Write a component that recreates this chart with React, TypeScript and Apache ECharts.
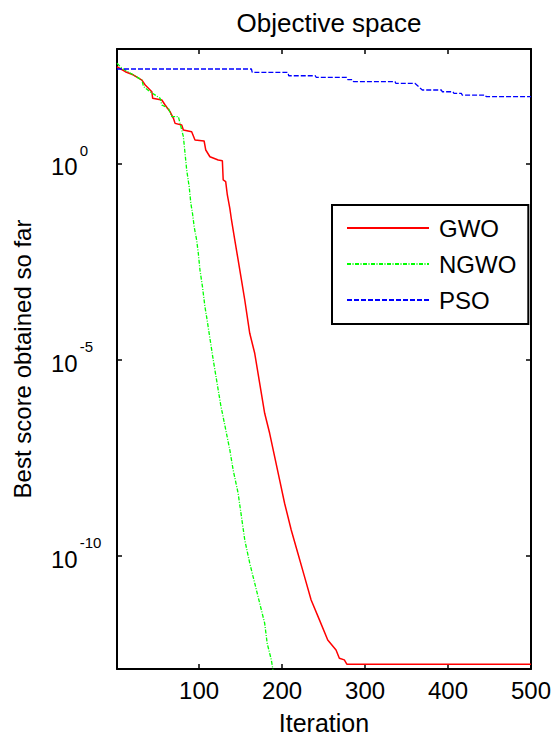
import React, { useEffect, useRef } from "react";
import * as echarts from "echarts";

const titleText = "Objective space";
const xName = "Iteration";
const yName = "Best score obtained so far";
const seriesNames = ["GWO", "NGWO", "PSO"];
const xTicks = [100, 200, 300, 400, 500];
const yTicks = [1, 1e-5, 1e-10];
const xMin = 1;
const xMax = 500;
const yMin = 1.32e-13;
const yMax = 815;

const gwo: [number, number][] = [
  [1, 288], [11, 215], [21, 177], [31, 132], [35, 98.6], [43, 66.6], [44, 45.2],
  [55, 40.9], [59, 30.5], [65, 20.6], [69, 14.0], [71, 10.4], [79, 9.45], [81, 7.05],
  [91, 6.38], [95, 3.92], [106, 3.7], [108, 2.18], [113, 1.47], [123, 1.21], [128, 1.16],
  [129, 0.376], [132, 0.34], [134, 0.156], [137, 0.0715], [139, 0.036], [143, 0.0111],
  [147, 3.45e-3], [151, 1.07e-3], [155, 3.3e-4], [161, 4.69e-5], [167, 1.45e-5],
  [173, 2.5e-6], [179, 4.3e-7], [185, 1.33e-7], [191, 3.38e-8], [197, 8.61e-9],
  [203, 2.2e-9], [211, 4.59e-10], [219, 1.17e-10], [227, 2.97e-11], [235, 7.58e-12],
  [245, 2.35e-12], [255, 7.25e-13], [265, 4.04e-13], [269, 2.48e-13], [275, 2.25e-13],
  [278, 1.75e-13], [500, 1.75e-13],
];

const ngwo: [number, number][] = [
  [1, 352], [7, 262], [21, 177], [31, 132], [33, 89.3], [41, 66.6], [53, 45.2],
  [55, 30.5], [63, 25.2], [67, 15.4], [75, 15.4], [77, 10.4], [79, 7.05], [81, 4.76],
  [83, 1.8], [85, 0.675], [88, 0.254], [90, 0.0958], [92, 0.0533], [94, 0.0243],
  [97, 0.0111], [99, 5.11e-3], [101, 1.92e-3], [104, 7.21e-4], [107, 2.23e-4],
  [109, 1.24e-4], [117, 9.8e-6], [126, 7.0e-7], [137, 5.0e-8], [141, 1.55e-8],
  [147, 3.95e-9], [151, 1.0e-9], [155, 2.55e-10], [161, 6.52e-11], [167, 2.02e-11],
  [173, 6.25e-12], [179, 1.93e-12], [182, 5.98e-13], [187, 2.25e-13], [189, 1.25e-13],
  [191, 7e-14],
];

const pso: [number, number][] = [
  [1, 252], [163, 252], [164, 207], [207, 207], [208, 170], [240, 170], [241, 155],
  [278, 155], [279, 135], [285, 135], [286, 121], [336, 121], [337, 109], [360, 109],
  [369, 73.6], [392, 73.6], [393, 66.5], [406, 66.5], [407, 60.6], [416, 60.6],
  [417, 54.8], [445, 54.8], [446, 49.7], [500, 49.7],
];

const FONT = "Liberation Sans, Arial, sans-serif";

export default function App() {
  const ref = useRef<HTMLDivElement>(null);
  useEffect(() => {
    if (!ref.current) return;
    const chart = echarts.init(ref.current, null, { renderer: "svg" });
    const axisLine = { show: true, lineStyle: { color: "#000", width: 2 } };
    const tick = { show: true, inside: true, length: 5, lineStyle: { color: "#000", width: 1.5 } };
    chart.setOption({
      animation: false,
      backgroundColor: "#fff",
      textStyle: { fontFamily: FONT },
      title: {
        text: titleText,
        left: 324,
        textAlign: "center",
        top: 5,
        textStyle: { fontSize: 26, fontWeight: "normal", color: "#000", fontFamily: FONT },
      },
      legend: {
        orient: "vertical",
        left: 332,
        top: 205,
        data: seriesNames,
        backgroundColor: "#fff",
        borderColor: "#000",
        borderWidth: 2,
        borderRadius: 0,
        padding: [11, 12, 12, 14],
        itemWidth: 82,
        itemHeight: 14,
        itemGap: 12,
        itemStyle: { opacity: 0 },
        textStyle: { fontSize: 24, color: "#000", fontFamily: FONT, padding: [0, 0, 0, 5] },
      },
      grid: { left: 117, right: 24, top: 49, bottom: 72 },
      xAxis: [
        {
          type: "value",
          min: xMin,
          max: xMax,
          name: xName,
          nameLocation: "middle",
          nameGap: 41,
          nameTextStyle: { fontSize: 25, color: "#000", fontFamily: FONT },
          axisLine,
          axisTick: { ...tick, customValues: xTicks },
          axisLabel: {
            customValues: xTicks,
            margin: 9,
            fontSize: 24,
            color: "#000",
            fontFamily: FONT,
          },
          splitLine: { show: false },
        },
        {
          type: "value",
          position: "top",
          min: xMin,
          max: xMax,
          axisLine,
          axisTick: { ...tick, customValues: xTicks },
          axisLabel: { show: false },
          splitLine: { show: false },
        },
      ],
      yAxis: [
        {
          type: "log",
          logBase: 10,
          min: yMin,
          max: yMax,
          name: yName,
          nameLocation: "middle",
          nameGap: 83,
          nameTextStyle: { fontSize: 24, color: "#000", fontFamily: FONT },
          axisLine,
          axisTick: { ...tick, customValues: yTicks },
          minorTick: { show: false },
          axisLabel: {
            customValues: yTicks,
            align: "left",
            margin: 66,
            formatter: (v: number) => `{b|10}{s|${Math.round(Math.log10(v))}}`,
            rich: {
              b: { fontSize: 24, lineHeight: 29, color: "#000", fontFamily: FONT, verticalAlign: "bottom", padding: [0, 0, 5, 0] },
              s: { fontSize: 15, lineHeight: 41, color: "#000", fontFamily: FONT, verticalAlign: "top", padding: [0, 0, 26, 2] },
            },
          },
          splitLine: { show: false },
        },
        {
          type: "log",
          logBase: 10,
          min: yMin,
          max: yMax,
          position: "right",
          axisLine,
          axisTick: { ...tick, customValues: yTicks },
          axisLabel: { show: false },
          splitLine: { show: false },
        },
      ],
      series: [
        {
          name: seriesNames[0],
          type: "line",
          data: gwo,
          symbol: "none",
          showSymbol: false,
          lineStyle: { color: "#ff0000", width: 1.5, type: "solid" },
          itemStyle: { color: "#ff0000" },
          clip: true,
        },
        {
          name: seriesNames[1],
          type: "line",
          data: ngwo,
          symbol: "none",
          showSymbol: false,
          lineStyle: { color: "#00ff00", width: 1.3, type: [4, 1.5, 1, 1.5] },
          itemStyle: { color: "#00ff00" },
          clip: true,
        },
        {
          name: seriesNames[2],
          type: "line",
          data: pso,
          symbol: "none",
          showSymbol: false,
          lineStyle: { color: "#0000ff", width: 1.3, type: [5, 2] },
          itemStyle: { color: "#0000ff" },
          clip: true,
        },
      ],
    });
    return () => chart.dispose();
  }, []);
  return (
    <div
      ref={ref}
      style={{ position: "absolute", left: 0, top: 0, width: 555, height: 741 }}
    />
  );
}
